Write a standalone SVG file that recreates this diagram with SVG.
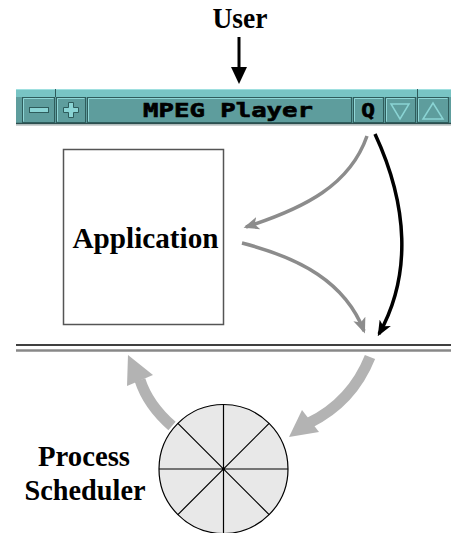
<svg xmlns="http://www.w3.org/2000/svg" width="451" height="533" viewBox="0 0 451 533">
  <style>
    .label { font-family: "Liberation Serif", "Times New Roman", serif; font-weight: bold; font-size: 30px; fill: #000; }
    .btn { fill: #5e9d9d; stroke: #2e5c5c; stroke-width: 1; }
    .bevel { fill: none; stroke: #8fd6d6; stroke-width: 1; }
    .glyph { fill: #8ad4d4; stroke: #2e5c5c; stroke-width: 1; }
    .mono { font-family: "DejaVu Sans Mono", "Liberation Mono", monospace; font-weight: bold; font-size: 19px; fill: #000; stroke: #000; stroke-width: 0.6; }
    .thin { fill: none; stroke-width: 3.5; }
    .gray { stroke: #8c8c8c; }
    .black { stroke: #000; }
    .fat { fill: none; stroke: #b3b3b3; stroke-width: 11; }
    .fathead { fill: #b3b3b3; }
  </style>
  <defs>
    <marker id="headGray" viewBox="0 0 12 10" refX="10" refY="5" markerWidth="4.4" markerHeight="3.8" orient="auto" markerUnits="strokeWidth">
      <path d="M0,0 L12,5 L0,10 L3,5 z" fill="#8c8c8c"/>
    </marker>
    <marker id="headBlack" viewBox="0 0 12 10" refX="10" refY="5" markerWidth="4.4" markerHeight="3.8" orient="auto" markerUnits="strokeWidth">
      <path d="M0,0 L12,5 L0,10 L3,5 z" fill="#000"/>
    </marker>
  </defs>

  <rect width="451" height="533" fill="#fff"/>

  <!-- user label -->
  <g id="user">
    <text class="label" x="240" y="28" text-anchor="middle" textLength="55" lengthAdjust="spacingAndGlyphs">User</text>
  </g>

  <!-- window title bar -->
  <g id="titlebar">
    <rect x="16" y="89" width="435" height="34" fill="#5e9d9d"/>
    <rect x="16" y="89" width="435" height="8" fill="#78c4c4"/>
    <line x1="16" y1="89.5" x2="451" y2="89.5" stroke="#9ee0e0"/>
    <line x1="55.5" y1="89" x2="55.5" y2="97" stroke="#2e5c5c"/>
    <line x1="417.5" y1="89" x2="417.5" y2="97" stroke="#2e5c5c"/>
    <line x1="16" y1="123.5" x2="451" y2="123.5" stroke="#2e4f4f" stroke-width="1.5"/>
    <line x1="16" y1="125" x2="451" y2="125" stroke="#9aa6a6" stroke-width="1"/>
    <!-- buttons -->
    <rect class="btn" x="22.5" y="97.5" width="32" height="25"/>
    <rect class="btn" x="56.5" y="97.5" width="29" height="25"/>
    <rect class="btn" x="87.5" y="97.5" width="264" height="25"/>
    <rect class="btn" x="353.5" y="97.5" width="30" height="25"/>
    <rect class="btn" x="385.5" y="97.5" width="30" height="25"/>
    <rect class="btn" x="417.5" y="97.5" width="31" height="25"/>
    <path class="bevel" d="M23.5,121.5 V98.5 H53.5 M57.5,121.5 V98.5 H84.5 M88.5,121.5 V98.5 H350.5 M354.5,121.5 V98.5 H382.5 M386.5,121.5 V98.5 H414.5 M418.5,121.5 V98.5 H447.5"/>
    <!-- minus / plus glyphs -->
    <rect class="glyph" x="29.5" y="107.5" width="19" height="5"/>
    <path class="glyph" d="M68.5,102.5 h5 v5 h5 v5 h-5 v5 h-5 v-5 h-5 v-5 h5 z"/>
    <text class="mono" transform="translate(228,117) scale(1.35,1)" text-anchor="middle">MPEG Player</text>
    <text class="mono" transform="translate(368,117) scale(1.2,1)" text-anchor="middle">Q</text>
    <path d="M391,104 H409 L400,119 Z" fill="none" stroke="#8ad4d4" stroke-width="1.5"/>
    <path d="M423,119 H443 L433,103 Z" fill="none" stroke="#8ad4d4" stroke-width="1.5"/>
  </g>

  <!-- application window -->
  <g id="application">
    <rect x="63.5" y="149.5" width="160" height="175" fill="#fff" stroke="#555" stroke-width="1.5"/>
    <text class="label" x="145.5" y="248" text-anchor="middle" textLength="146" lengthAdjust="spacingAndGlyphs">Application</text>
  </g>

  <!-- kernel boundary -->
  <g id="boundary">
    <line x1="16" y1="345" x2="451" y2="345" stroke="#000" stroke-width="1.3"/>
    <line x1="16" y1="350.5" x2="451" y2="350.5" stroke="#888" stroke-width="2.5"/>
  </g>

  <!-- scheduler wheel -->
  <g id="scheduler">
    <circle cx="223.5" cy="469" r="64.5" fill="#e8e8e8" stroke="#000" stroke-width="1.2"/>
    <path d="M223.5,404.5 V533.5 M159,469 H288 M177.9,423.4 L269.1,514.6 M269.1,423.4 L177.9,514.6" stroke="#000" stroke-width="1.2" fill="none"/>
    <text class="label" x="84" y="466" text-anchor="middle" textLength="92" lengthAdjust="spacingAndGlyphs">Process</text>
    <text class="label" x="85" y="500" text-anchor="middle" textLength="121" lengthAdjust="spacingAndGlyphs">Scheduler</text>
  </g>

  <!-- connectors -->
  <g id="connectors">
    <line x1="239" y1="37" x2="239" y2="70" stroke="#000" stroke-width="3"/>
    <path d="M231,67 L247,67 L239,84 Z" fill="#000"/>

    <path class="thin gray" d="M367,136 C350,185 305,208 246,227" marker-end="url(#headGray)"/>
    <path class="thin gray" d="M242,243 C300,258 345,282 364,331" marker-end="url(#headGray)"/>
    <path class="thin black" d="M375,134 C408,205 412,275 379,334" marker-end="url(#headBlack)"/>

    <path class="fat" d="M370,357 Q352,402 309,423"/>
    <polygon class="fathead" points="289,437 302,410 319,432"/>
    <path class="fat" d="M172,426 Q148,405 140,380"/>
    <polygon class="fathead" points="128,355 153,375 127,386"/>
  </g>
</svg>
